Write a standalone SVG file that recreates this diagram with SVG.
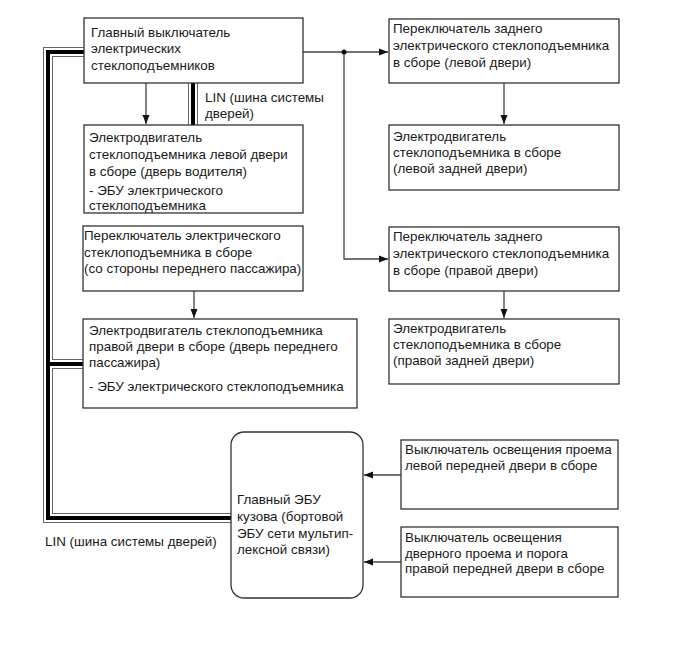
<svg xmlns="http://www.w3.org/2000/svg" width="690" height="659" viewBox="0 0 690 659">
<style>
  .box{fill:#fff;stroke:#333;stroke-width:1.3}
  .t{font-family:"Liberation Sans",Arial,sans-serif;font-size:13.4px;fill:#1a1a1a}
  .ln{fill:none;stroke:#444;stroke-width:1.3}
  .busO{fill:none;stroke:#666;stroke-width:10}
  .busW{fill:none;stroke:#fff;stroke-width:8}
  .busB{fill:none;stroke:#000;stroke-width:4}
</style>
<defs>
  <marker id="ah" markerWidth="10" markerHeight="8" refX="9" refY="4" orient="auto" markerUnits="userSpaceOnUse">
    <path d="M0,0.5 L9,4 L0,7.5 Z" fill="#111"/>
  </marker>
</defs>
<rect width="690" height="659" fill="#fff"/>

<g id="connectors">
  <!-- LIN bus -->
  <path class="busO" d="M84,52 H48 V518 H231 M48,364 H83 M193,83 V125"/>
  <path class="busW" d="M85,52 H48 V518 H232 M48,364 H84 M193,82 V126"/>
  <path class="busB" d="M85,52 H48 V518 H232 M48,364 H84 M193,82 V126"/>
  <!-- arrows -->
  <path class="ln" d="M146,83 V124" marker-end="url(#ah)"/>
  <path class="ln" d="M303,52 H388" marker-end="url(#ah)"/>
  <path class="ln" d="M344,52 V259 H388" marker-end="url(#ah)"/>
  <circle cx="344" cy="52" r="2.5" fill="#111"/>
  <path class="ln" d="M504,83 V124" marker-end="url(#ah)"/>
  <path class="ln" d="M504,291 V318" marker-end="url(#ah)"/>
  <path class="ln" d="M194,291 V318" marker-end="url(#ah)"/>
  <path class="ln" d="M401,475 H364" marker-end="url(#ah)"/>
  <path class="ln" d="M401,562 H364" marker-end="url(#ah)"/>
  <text class="t" x="205" y="102">LIN (шина системы</text>
  <text class="t" x="205" y="118">дверей)</text>
  <text class="t" x="45" y="546">LIN (шина системы дверей)</text>
</g>

<g id="main-switch">
  <rect class="box" x="84" y="18" width="219" height="65"/>
  <text class="t" x="91" y="37">Главный выключатель</text>
  <text class="t" x="91" y="53">электрических</text>
  <text class="t" x="91" y="70">стеклоподъемников</text>
</g>

<g id="motor-left-front">
  <rect class="box" x="84" y="125" width="219" height="88"/>
  <text class="t" x="89" y="142">Электродвигатель</text>
  <text class="t" x="89" y="159">стеклоподъемника левой двери</text>
  <text class="t" x="89" y="176">в сборе (дверь водителя)</text>
  <text class="t" x="89" y="195">- ЭБУ электрического</text>
  <text class="t" x="89" y="210">стеклоподъемника</text>
</g>

<g id="switch-passenger">
  <rect class="box" x="83" y="226" width="220" height="65"/>
  <text class="t" x="84" y="240">Переключатель электрического</text>
  <text class="t" x="84" y="257">стеклоподъемника в сборе</text>
  <text class="t" x="84" y="273">(со стороны переднего пассажира)</text>
</g>

<g id="motor-right-front">
  <rect class="box" x="83" y="319" width="274" height="89"/>
  <text class="t" x="89" y="335">Электродвигатель стеклоподъемника</text>
  <text class="t" x="89" y="351">правой двери в сборе (дверь переднего</text>
  <text class="t" x="89" y="367">пассажира)</text>
  <text class="t" x="89" y="391">- ЭБУ электрического стеклоподъемника</text>
</g>

<g id="switch-rear-left">
  <rect class="box" x="389" y="19" width="230" height="64"/>
  <text class="t" x="393" y="33">Переключатель заднего</text>
  <text class="t" x="393" y="50">электрического стеклоподъемника</text>
  <text class="t" x="393" y="67">в сборе (левой двери)</text>
</g>

<g id="motor-rear-left">
  <rect class="box" x="389" y="125" width="230" height="65"/>
  <text class="t" x="393" y="141">Электродвигатель</text>
  <text class="t" x="393" y="157">стеклоподъемника в сборе</text>
  <text class="t" x="393" y="173">(левой задней двери)</text>
</g>

<g id="switch-rear-right">
  <rect class="box" x="389" y="227" width="230" height="64"/>
  <text class="t" x="393" y="241">Переключатель заднего</text>
  <text class="t" x="393" y="258">электрического стеклоподъемника</text>
  <text class="t" x="393" y="275">в сборе (правой двери)</text>
</g>

<g id="motor-rear-right">
  <rect class="box" x="389" y="319" width="230" height="65"/>
  <text class="t" x="393" y="333">Электродвигатель</text>
  <text class="t" x="393" y="349">стеклоподъемника в сборе</text>
  <text class="t" x="393" y="365">(правой задней двери)</text>
</g>

<g id="body-ecu">
  <rect class="box" x="231" y="432" width="132" height="166" rx="13" ry="13"/>
  <text class="t" x="237" y="504">Главный ЭБУ</text>
  <text class="t" x="237" y="521">кузова (бортовой</text>
  <text class="t" x="237" y="538">ЭБУ сети мультип-</text>
  <text class="t" x="237" y="554">лексной связи)</text>
</g>

<g id="door-light-left">
  <rect class="box" x="401" y="440" width="217" height="69"/>
  <text class="t" x="405" y="454">Выключатель освещения проема</text>
  <text class="t" x="405" y="470">левой передней двери в сборе</text>
</g>

<g id="door-light-right">
  <rect class="box" x="401" y="527" width="217" height="70"/>
  <text class="t" x="405" y="542">Выключатель освещения</text>
  <text class="t" x="405" y="558">дверного проема и порога</text>
  <text class="t" x="405" y="573">правой передней двери в сборе</text>
</g>
</svg>
